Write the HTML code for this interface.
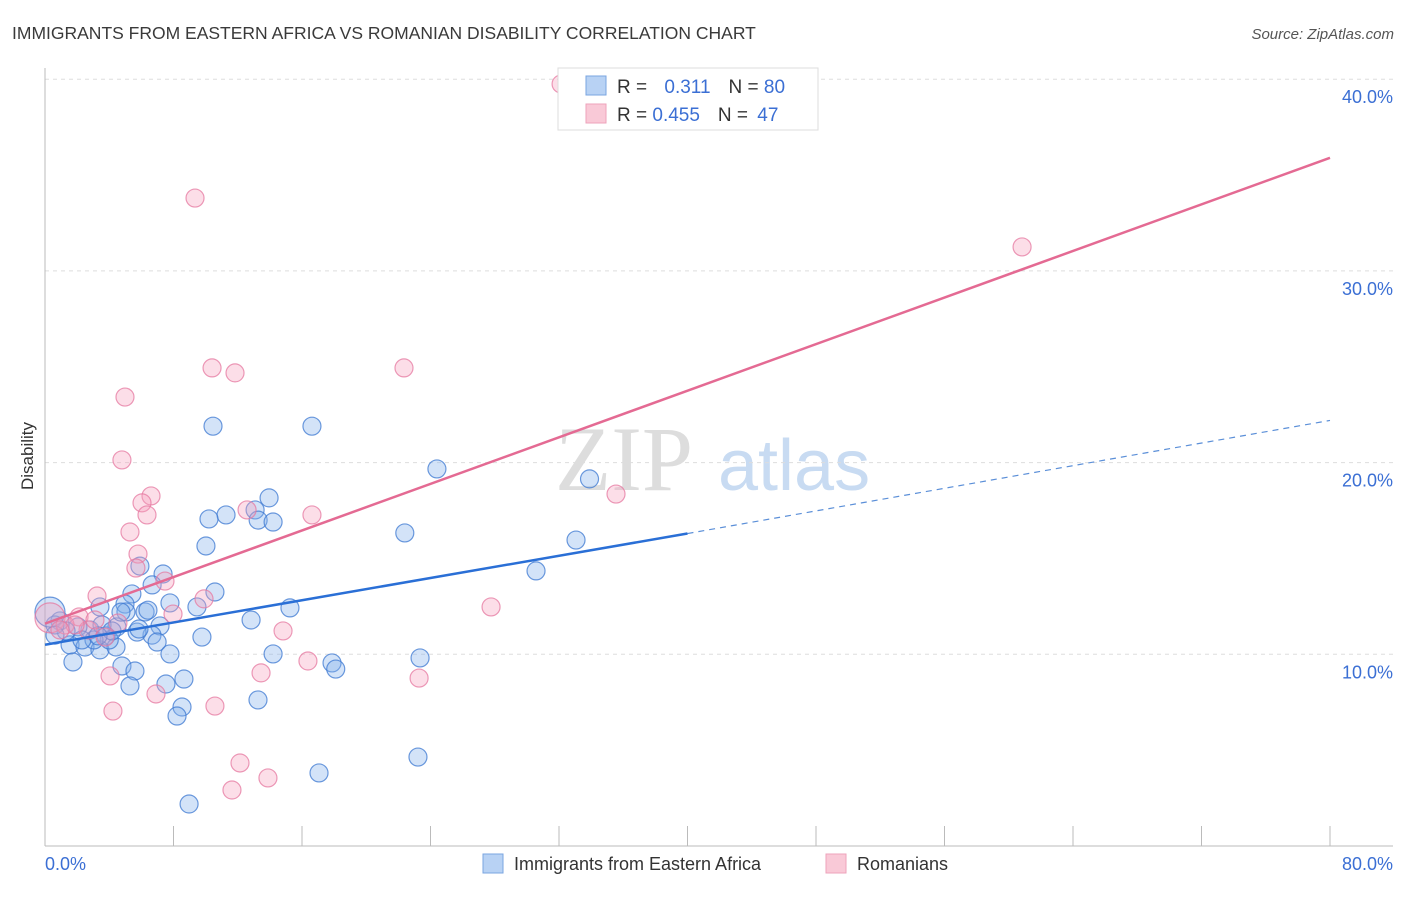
<!DOCTYPE html>
<html><head><meta charset="utf-8"><style>
body{margin:0;background:#fff;font-family:"Liberation Sans",sans-serif}
</style></head><body>
<svg width="1406" height="892" xmlns="http://www.w3.org/2000/svg">
<text x="12" y="39" font-size="17.5" fill="#3a3a3a">IMMIGRANTS FROM EASTERN AFRICA VS ROMANIAN DISABILITY CORRELATION CHART</text>
<text x="1394" y="39" font-size="15" fill="#555" font-style="italic" text-anchor="end">Source: ZipAtlas.com</text>
<g><text x="555" y="490" font-size="92" font-family="Liberation Serif,serif" fill="#ddd">ZIP</text><text x="718" y="490" font-size="72" fill="#c8dbf2">atlas</text></g>
<g id="grid"></g>
<line x1="45" y1="68" x2="45" y2="846" stroke="#bbb"/>
<line x1="45" y1="846" x2="1393" y2="846" stroke="#bbb"/>
<g id="xticks"></g>
<g id="ylabels"></g>
<text x="45" y="870" font-size="18" fill="#3b6fd4">0.0%</text>
<text x="1393" y="870" font-size="18" fill="#3b6fd4" text-anchor="end">80.0%</text>
<text transform="translate(33,456) rotate(-90)" font-size="17" fill="#333" text-anchor="middle">Disability</text>
<g id="pts"></g>
<g id="lines"></g>
<g>
<rect x="558" y="68" width="260" height="62" fill="#fff" stroke="#ddd"/>
<rect x="586" y="76" width="20" height="19" fill="#b8d2f4" stroke="#7aa5e0"/>
<rect x="586" y="104" width="20" height="19" fill="#f9c9d7" stroke="#eea3bb"/>
<text x="617" y="93" font-size="19" fill="#333">R = <tspan fill="#3b6fd4" dx="12">0.311</tspan><tspan dx="18" fill="#333">N = </tspan><tspan fill="#3b6fd4">80</tspan></text>
<text x="617" y="121" font-size="19" fill="#333">R = <tspan fill="#3b6fd4">0.455</tspan><tspan dx="18" fill="#333">N = </tspan><tspan fill="#3b6fd4" dx="4">47</tspan></text>
</g>
<g>
<rect x="483" y="854" width="20" height="19" fill="#b8d2f4" stroke="#7aa5e0"/>
<text x="514" y="870" font-size="18" fill="#333">Immigrants from Eastern Africa</text>
<rect x="826" y="854" width="20" height="19" fill="#f9c9d7" stroke="#eea3bb"/>
<text x="857" y="870" font-size="18" fill="#333">Romanians</text>
</g>
</svg>
<script>
const yTicks=[10,20,30,40];
const yTickLabels=["10.0%","20.0%","30.0%","40.0%"];
const xTicks=[0,8,16,24,32,40,48,56,64,72,80];
const blueX=[10.46,16.62,24.4,33.9,22.4,33.06,30.57,13.95,13.08,11.27,10.21,13.27,14.2,10.02,5.91,7.35,6.67,10.58,5.41,4.98,7.78,9.46,15.25,6.23,3.42,5.04,7.16,12.83,6.66,5.73,4.48,6.98,9.77,3.8,2.8,2.05,0.93,1.56,2.49,3.42,4.42,4.0,7.78,14.2,23.35,4.79,5.6,17.87,18.1,1.74,8.65,7.53,5.29,13.26,8.53,8.22,17.06,23.22,8.97,3.05,1.31,0.62,2.3,3.55,5.85,4.17,4.73,6.41,0.62,3.3,0.31];
const blueY=[21.9,21.9,19.67,19.15,16.33,15.96,14.35,18.16,17.53,17.27,17.06,17.0,16.9,15.65,14.6,14.19,13.62,13.25,13.15,12.62,12.68,12.47,12.42,12.21,12.47,12.21,11.48,11.79,11.0,11.16,11.43,10.64,10.9,10.96,11.27,11.43,11.74,10.49,10.38,10.23,10.38,10.75,10.02,10.02,9.81,9.39,9.13,9.55,9.23,9.6,8.71,8.45,8.35,7.62,7.25,6.78,3.81,4.64,2.19,10.75,11.22,11.53,10.75,11.53,11.32,11.22,12.2,12.3,11.0,10.96,12.2];
const pinkX=[32.13,9.34,60.83,10.4,11.83,22.35,4.98,4.79,6.6,6.04,6.35,35.55,12.58,16.62,5.29,5.79,5.66,7.47,3.24,9.9,27.77,7.97,2.12,4.54,14.82,0.31,1.25,2.68,3.74,16.37,13.45,4.05,23.29,6.91,10.58,4.23,12.14,13.88,11.64,1.87,3.11,0.93];
const pinkY=[39.75,33.8,31.25,24.94,24.68,24.94,23.42,20.14,18.26,17.9,17.27,18.36,17.53,17.27,16.38,15.23,14.5,13.82,13.04,12.89,12.47,12.1,11.95,11.63,11.22,11.9,11.53,11.27,10.9,9.65,9.03,8.87,8.76,7.93,7.3,7.04,4.33,3.55,2.92,11.53,11.79,11.27];
const blueLine=[[0,10.5],[40,16.3],[80,22.2]];
const pinkLine=[[0,11.6],[80,35.9]];
const NS="http://www.w3.org/2000/svg";
const xs=v=>45+v/80*1285, ys=v=>846-v*19.17;
function mk(t,a,p){const e=document.createElementNS(NS,t);for(const k in a)e.setAttribute(k,a[k]);p.appendChild(e);return e;}
const grid=document.getElementById('grid'),yl=document.getElementById('ylabels');
yTicks.forEach((t,i)=>{
 const l=mk('line',{x1:45,x2:1393,y1:ys(t),y2:ys(t),stroke:'#ddd','stroke-dasharray':'4,4'},grid);
 
 
 const tx=mk('text',{x:1393,y:ys(t)+24,'font-size':18,fill:'#3b6fd4','text-anchor':'end'},yl);
 tx.textContent=yTickLabels[i];
 
 
});
const xt=document.getElementById('xticks');
xTicks.forEach(t=>{
 const l=mk('line',{x1:xs(t),x2:xs(t),y1:826,y2:846,stroke:'#bbb'},xt);
 
 
});
const pts=document.getElementById('pts');
function draw(X,Y,fill,stroke,name){X.forEach((x,i)=>{
 const r=(x<0.5)?15:9;
 const c=mk('circle',{cx:xs(x),cy:ys(Y[i]),r:r,fill:fill,stroke:stroke,'stroke-width':1.2},pts);
 
 
});}
draw(blueX,blueY,'rgba(130,175,235,0.35)','rgba(60,120,210,0.75)','blue-point');
draw(pinkX,pinkY,'rgba(245,160,190,0.35)','rgba(230,120,160,0.75)','pink-point');
const lg=document.getElementById('lines');
let b=mk('line',{x1:xs(blueLine[0][0]),y1:ys(blueLine[0][1]),x2:xs(blueLine[1][0]),y2:ys(blueLine[1][1]),stroke:'#2a6fd6','stroke-width':2.5},lg);


let bd=mk('line',{x1:xs(blueLine[1][0]),y1:ys(blueLine[1][1]),x2:xs(blueLine[2][0]),y2:ys(blueLine[2][1]),stroke:'#5b8fd8','stroke-width':1.2,'stroke-dasharray':'6,5'},lg);


let p=mk('line',{x1:xs(pinkLine[0][0]),y1:ys(pinkLine[0][1]),x2:xs(pinkLine[1][0]),y2:ys(pinkLine[1][1]),stroke:'#e46a93','stroke-width':2.5},lg);


</script>
</body></html>
